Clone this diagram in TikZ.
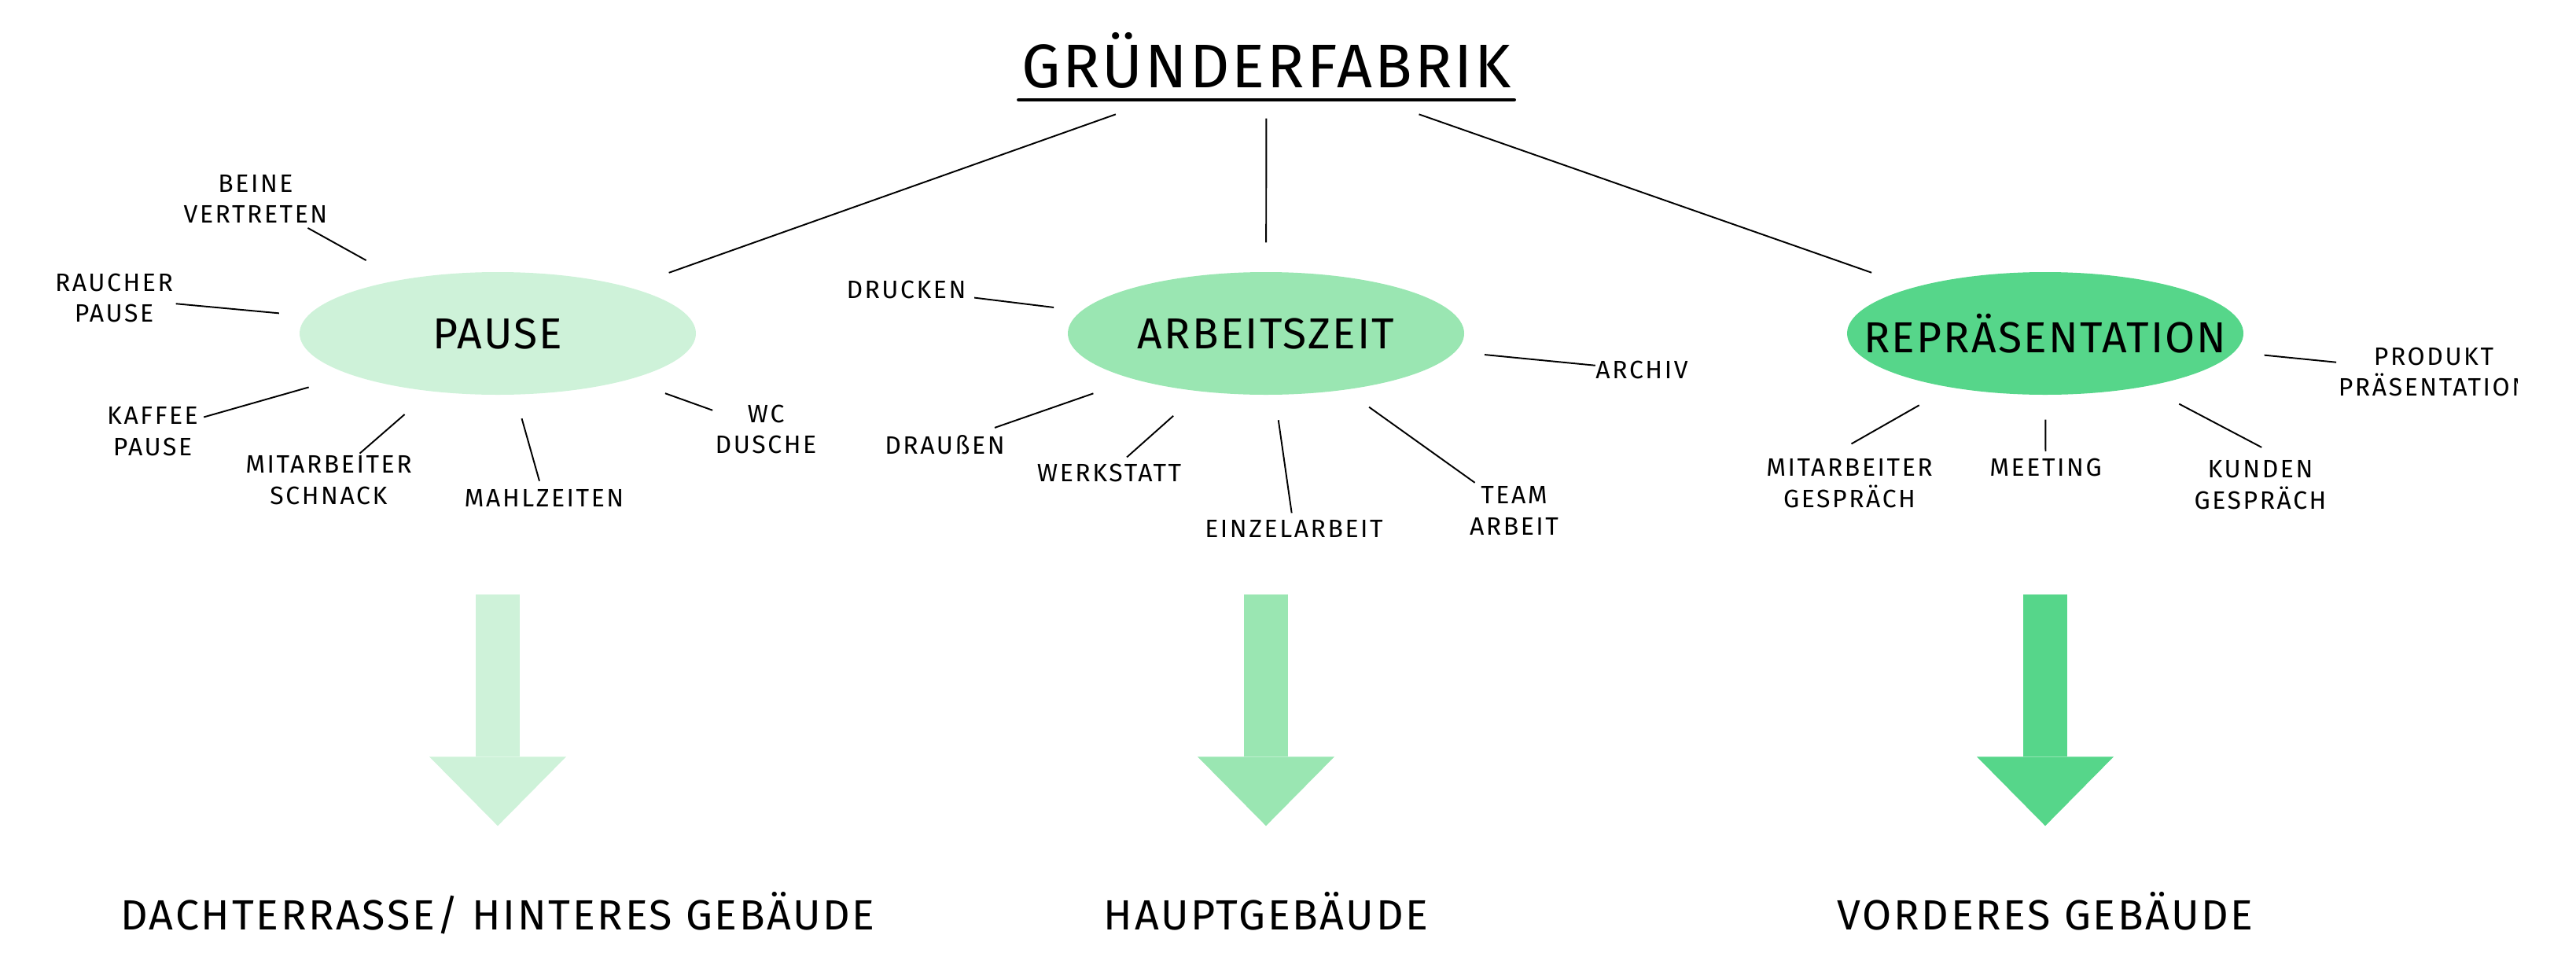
\documentclass[tikz,border=0pt]{standalone}
\usepackage{fontspec}
\setmainfont{Fira Sans}[LetterSpace=4]
\usetikzlibrary{arrows.meta,shapes.geometric}
\definecolor{pausegreen}{HTML}{CEF2D9}
\definecolor{workgreen}{HTML}{9AE6B2}
\definecolor{showgreen}{HTML}{56D68A}
\newcommand{\zw}[1]{\makebox[0pt]{#1}}

\begin{document}
\begin{tikzpicture}[
      oval/.style={ellipse, fill=#1, minimum width=5.04cm, minimum height=1.56cm, inner sep=0pt,
                   font=\fontsize{15.7}{18}\selectfont},
      item/.style={align=center, inner sep=0pt, font=\fontsize{9.1}{11.3}\selectfont\addfontfeatures{LetterSpace=8}},
      leg/.style={line width=0.55pt},
      place/.style={anchor=base, inner sep=0pt, text height=0.45cm, text depth=0pt,
                    font=\fontsize{15.3}{18}\selectfont\addfontfeatures{LetterSpace=5}},
      bigarr/.style={draw=#1, line width=0.56cm, -{Triangle[width=1.74cm, length=0.88cm, line width=0pt]}}]
    \useasboundingbox (0,0) rectangle (32.76,-12.44);
    % title
    \node[anchor=base, inner sep=0pt, font=\fontsize{22.3}{26}\selectfont] (title) at (16.105,-1.12) {GRÜNDERFABRIK};
    \draw[line width=1.3pt, line cap=round] ([xshift=-0.03cm, yshift=-0.15cm]title.base west) -- ([xshift=0.03cm, yshift=-0.15cm]title.base east);
    % three areas
    \node[oval=pausegreen] (pause) at (6.33,-4.24) {\zw{PAUSE}};
    \node[oval=workgreen] (arbeit) at (16.10,-4.24) {\zw{ARBEITSZEIT}};
    \node[oval=showgreen] (repr) at (26.01,-4.24) {\zw{REPRÄSENTATION}};
    \draw[leg, shorten <=0.95cm, shorten >=0.54cm] (title) -- (pause);
    \draw[leg, shorten <=0.37cm, shorten >=0.37cm] (title) -- (arbeit);
    \draw[leg, shorten <=0.96cm, shorten >=0.56cm] (title) -- (repr);
    % pause
    \node[item] (beine) at (3.25,-2.53) {BEINE\\VERTRETEN};
    \node[item] (raucher) at (1.45,-3.79) {RAUCHER\\PAUSE};
    \node[item] (kaffee) at (1.94,-5.49) {KAFFEE\\PAUSE};
    \node[item] (schnack) at (4.18,-6.11) {MITARBEITER\\SCHNACK};
    \node[item] (mahl) at (6.92,-6.33) {MAHLZEITEN};
    \node[item] (wc) at (9.74,-5.46) {WC\\DUSCHE};
    \draw[leg, shorten <=0.50cm, shorten >=0.11cm] (pause) -- (beine);
    \draw[leg, shorten <=0.36cm, shorten >=0.03cm] (pause) -- (raucher);
    \draw[leg, shorten <=0.56cm, shorten >=0.07cm] (pause) -- (kaffee);
    \draw[leg, shorten <=0.44cm, shorten >=0.04cm] (pause) -- (schnack);
    \draw[leg, shorten <=0.31cm, shorten >=0.10cm] (pause) -- (mahl);
    \draw[leg, shorten <=0.50cm, shorten >=0.03cm] (pause) -- (wc);
    % arbeitszeit
    \node[item] (drucken) at (11.525,-3.68) {DRUCKEN};
    \node[item] (archiv) at (20.88,-4.705) {ARCHIV};
    \node[item] (draussen) at (12.015,-5.66) {DRAUßEN};
    \node[item] (werkstatt) at (14.105,-6.015) {WERKSTATT};
    \node[item] (einzel) at (16.455,-6.72) {EINZELARBEIT};
    \node[item] (team) at (19.255,-6.495) {TEAM\\ARBEIT};
    \draw[leg, shorten <=0.35cm, shorten >=0.10cm] (arbeit) -- (drucken);
    \draw[leg, shorten <=0.37cm] (arbeit) -- (archiv);
    \draw[leg, shorten <=0.54cm, shorten >=0.28cm] (arbeit) -- (draussen);
    \draw[leg, shorten <=0.46cm, shorten >=0.12cm] (arbeit) -- (werkstatt);
    \draw[leg, shorten <=0.32cm, shorten >=0.08cm] (arbeit) -- (einzel);
    \draw[leg, shorten <=0.37cm, shorten >=0.07cm] (arbeit) -- (team);
    % repraesentation
    \begin{scope}
      \clip (29.0,-4.0) rectangle (32.01,-5.3);
      \node[item] (produkt) at (30.95,-4.73) {PRODUKT\\PRÄSENTATION};
    \end{scope}
    \node[item] (gespraech) at (23.52,-6.145) {MITARBEITER\\GESPRÄCH};
    \node[item] (meeting) at (26.015,-5.94) {MEETING};
    \node[item] (kunden) at (28.745,-6.165) {KUNDEN\\GESPRÄCH};
    \draw[leg, shorten <=0.38cm, shorten >=0.02cm] (repr) -- (produkt);
    \draw[leg, shorten <=0.45cm, shorten >=0.37cm] (repr) -- (gespraech.133.6);
    \draw[leg, shorten <=0.31cm, shorten >=0.08cm] (repr) -- (meeting);
    \draw[leg, shorten <=0.47cm, shorten >=0.34cm] (repr) -- (kunden.45.9);
    % buildings
    \node[place] (dach) at (6.33,-11.82) {DACHTERRASSE/ HINTERES GEBÄUDE};
    \node[place] (haupt) at (16.10,-11.82) {HAUPTGEBÄUDE};
    \node[place] (vorn) at (26.01,-11.82) {VORDERES GEBÄUDE};
    \draw[bigarr=pausegreen, shorten <=2.53cm, shorten >=0.86cm] (pause) -- (dach);
    \draw[bigarr=workgreen, shorten <=2.53cm, shorten >=0.86cm] (arbeit) -- (haupt);
    \draw[bigarr=showgreen, shorten <=2.53cm, shorten >=0.86cm] (repr) -- (vorn);
  \end{tikzpicture}
\end{document}
